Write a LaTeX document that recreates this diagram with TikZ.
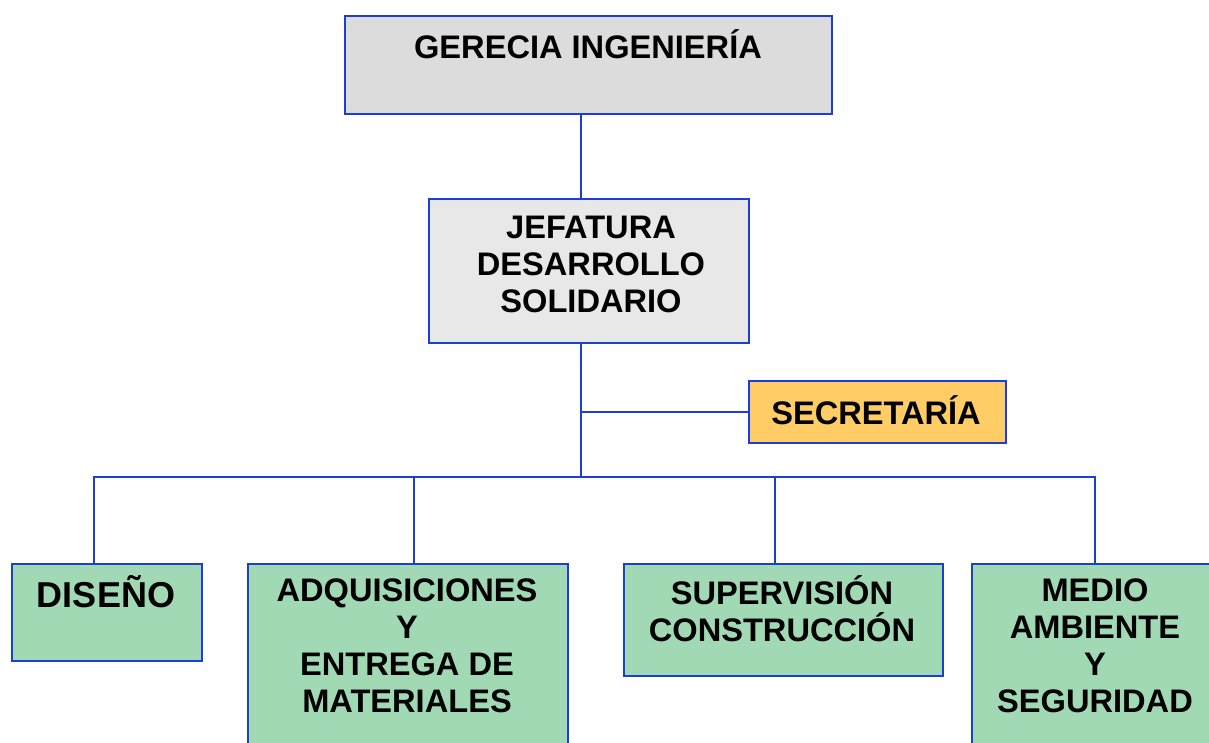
\documentclass[tikz,border=0pt]{standalone}
\usepackage{fontspec}
\setmainfont{Liberation Sans}
\definecolor{bordblue}{RGB}{28,62,212}
\definecolor{gtop}{RGB}{220,220,220}
\definecolor{gmid}{RGB}{232,232,232}
\definecolor{secfill}{RGB}{255,204,102}
\definecolor{grn}{RGB}{160,217,180}
\tikzset{
  box/.style={draw=bordblue, line width=2pt, rectangle, inner sep=0pt, anchor=north west},
  lbl/.style={font=\fontsize{32.6}{37}\selectfont\bfseries, align=center, inner sep=0pt, text=black},
  conn/.style={draw=bordblue, line width=2pt}
}
\begin{document}
\begin{tikzpicture}[x=1pt,y=-1pt]
\useasboundingbox (0,0) rectangle (1209,742);
\clip (0,0) rectangle (1209,742);
% boxes
\node[box, fill=gtop, minimum width=487pt, minimum height=98pt] (ger) at (344,15) {};
\node[box, fill=gmid, minimum width=320pt, minimum height=144pt] (jef) at (428,198) {};
\node[box, fill=secfill, minimum width=257pt, minimum height=62pt] (sec) at (748,380) {};
\node[box, fill=grn, minimum width=190pt, minimum height=97pt] (dis) at (11,563) {};
\node[box, fill=grn, minimum width=320pt, minimum height=200pt] (adq) at (247,563) {};
\node[box, fill=grn, minimum width=319pt, minimum height=112pt] (sup) at (623,563) {};
\node[box, fill=grn, minimum width=260pt, minimum height=200pt] (med) at (971,563) {};
% labels
\node[lbl] (gert) at (588,44) {GERECIA INGENIERÍA};
\node[lbl] (jeft) at (591,264) {JEFATURA\\DESARROLLO\\SOLIDARIO};
\node[lbl] (sect) at (876,410) {SECRETARÍA};
\node[lbl, font=\fontsize{36}{40}\selectfont\bfseries] (dist) at (106,592) {DISEÑO};
\node[lbl] (adqt) at (407,646) {ADQUISICIONES\\Y\\ENTREGA DE\\MATERIALES};
\node[lbl] (supt) at (782,609) {SUPERVISIÓN\\CONSTRUCCIÓN};
\node[lbl] (medt) at (1095,646) {MEDIO\\AMBIENTE\\Y\\SEGURIDAD};
% connector coordinates
\coordinate (jx) at (581,0);
\coordinate (bus) at (0,477);
\coordinate (d1) at (94,0);
\coordinate (d2) at (414,0);
\coordinate (d3) at (775,0);
\coordinate (d4) at (1095,0);
% connectors
\draw[conn] (jx |- ger.south) -- (jx |- jef.north);
\draw[conn] (jx |- jef.south) -- (jx |- bus);
\draw[conn] (sec.west) -- (sec.west -| jx);
\draw[conn] (d1 |- dis.north) -- (d1 |- bus) -- (d4 |- bus) -- (d4 |- med.north);
\draw[conn] (d2 |- bus) -- (d2 |- adq.north);
\draw[conn] (d3 |- bus) -- (d3 |- sup.north);
\end{tikzpicture}
\end{document}
